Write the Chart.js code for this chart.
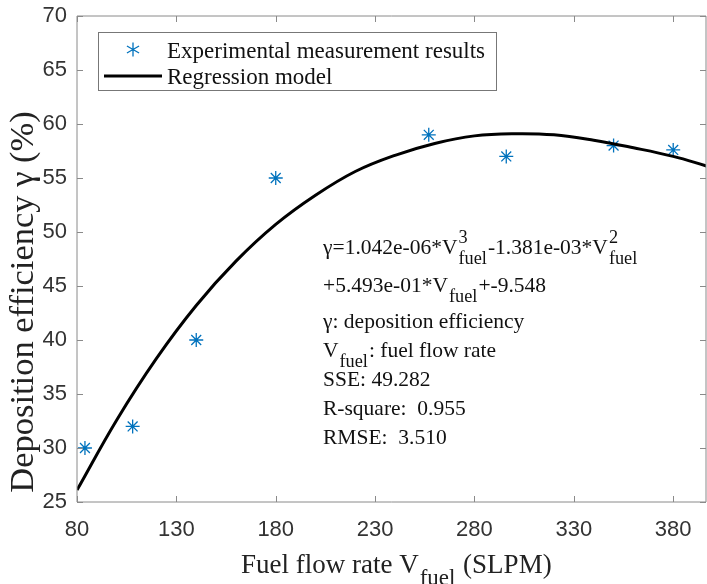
<!DOCTYPE html>
<html>
<head>
<meta charset="utf-8">
<script src="https://cdn.jsdelivr.net/npm/chart.js@4/dist/chart.umd.min.js"></script>
<style>
  html, body { margin: 0; padding: 0; background: #fff; }
  #wrap { width: 707px; height: 584px; }
</style>
</head>
<body>
<div id="wrap"><canvas id="chart" width="707" height="584"></canvas></div>
<script>
"use strict";
(() => {
    // values
    const xTicks = [80, 130, 180, 230, 280, 330, 380];
    const yTicks = [25, 30, 35, 40, 45, 50, 55, 60, 65, 70];
    const measuredFlow = [84, 108, 140, 180, 257, 296, 350, 380];
    const measuredEff = [30, 32, 40, 55, 59, 57, 58, 57.6];
    const modelFlow = [80, 100, 120, 140, 160, 180, 200, 220, 240, 260, 280, 300, 320, 340, 360, 380, 397];
    const modelEff = [26.1, 32.6, 38.3, 43.2, 47.3, 50.7, 53.4, 55.6, 57.1, 58.2, 58.9, 59.1, 59.0, 58.5, 57.8, 57.0, 56.1];

    const axisColor = '#8a8a8a';
    const markerColor = '#0072BD';
    const serif = '"Liberation Serif", "Times New Roman", serif';

    // draws a row of text pieces; a piece may carry sub / sup text
    function drawRich(ctx, x, y, pieces, size) {
        for (const p of pieces) {
            if (p.text) {
                ctx.font = `${size}px ${serif}`;
                ctx.fillText(p.text, x, y);
                x += ctx.measureText(p.text).width;
            }
            let w = 0;
            if (p.sub) {
                ctx.font = `${size * 0.85}px ${serif}`;
                ctx.fillText(p.sub, x + 1, y + size * 0.45);
                w = Math.max(w, ctx.measureText(p.sub).width + 2);
            }
            if (p.sup) {
                ctx.font = `${size * 0.85}px ${serif}`;
                ctx.fillText(p.sup, x + 1, y - size * 0.5);
                w = Math.max(w, ctx.measureText(p.sup).width + 2);
            }
            x += w;
        }
        return x;
    }

    const decorations = {
        id: 'decorations',
        afterDraw(chart) {
            const ctx = chart.ctx;
            const area = chart.chartArea;
            const xs = chart.scales.x;
            const ys = chart.scales.y;
            ctx.save();

            // box and inward ticks
            ctx.strokeStyle = axisColor;
            ctx.lineWidth = 1;
            ctx.beginPath();
            ctx.rect(area.left, area.top, area.right - area.left, area.bottom - area.top);
            for (const v of xTicks) {
                const px = Math.round(xs.getPixelForValue(v)) + 0.5;
                ctx.moveTo(px, area.bottom); ctx.lineTo(px, area.bottom - 6);
                ctx.moveTo(px, area.top); ctx.lineTo(px, area.top + 6);
            }
            for (const v of yTicks) {
                const py = Math.round(ys.getPixelForValue(v)) + 0.5;
                ctx.moveTo(area.left, py); ctx.lineTo(area.left + 6, py);
                ctx.moveTo(area.right, py); ctx.lineTo(area.right - 6, py);
            }
            ctx.stroke();

            // legend
            ctx.strokeStyle = '#777';
            ctx.fillStyle = '#fff';
            ctx.fillRect(98, 32, 399, 59);
            ctx.strokeRect(98.5, 32.5, 398, 58);
            ctx.strokeStyle = markerColor;
            ctx.lineWidth = 1.3;
            ctx.beginPath();
            for (let i = 0; i < 3; i++) {
                const a = Math.PI / 2 + i * Math.PI / 3;
                ctx.moveTo(133 - 7 * Math.cos(a), 49.5 - 7 * Math.sin(a));
                ctx.lineTo(133 + 7 * Math.cos(a), 49.5 + 7 * Math.sin(a));
            }
            ctx.stroke();
            ctx.strokeStyle = '#000';
            ctx.lineWidth = 3;
            ctx.beginPath();
            ctx.moveTo(104, 76); ctx.lineTo(162, 76);
            ctx.stroke();
            ctx.fillStyle = '#111';
            ctx.textBaseline = 'alphabetic';
            ctx.textAlign = 'left';
            ctx.font = `23px ${serif}`;
            ctx.fillText('Experimental measurement results', 167, 57.5);
            ctx.fillText('Regression model', 167, 83.5);

            // fit annotation
            const ax = 323;
            const size = 21.5;
            drawRich(ctx, ax, 254, [
                { text: 'γ=1.042e-06*V', sub: 'fuel', sup: '3' },
                { text: '-1.381e-03*V', sub: 'fuel', sup: '2' }
            ], size);
            drawRich(ctx, ax, 292, [
                { text: '+5.493e-01*V', sub: 'fuel' },
                { text: '+-9.548' }
            ], size);
            drawRich(ctx, ax, 328, [{ text: 'γ: deposition efficiency' }], size);
            drawRich(ctx, ax, 357, [{ text: 'V', sub: 'fuel' }, { text: ': fuel flow rate' }], size);
            drawRich(ctx, ax, 386, [{ text: 'SSE: 49.282' }], size);
            drawRich(ctx, ax, 415, [{ text: 'R-square:  0.955' }], size);
            drawRich(ctx, ax, 444, [{ text: 'RMSE:  3.510' }], size);

            // axis titles
            ctx.fillStyle = '#222';
            drawRich(ctx, 241, 573, [{ text: 'Fuel flow rate V', sub: 'fuel' }, { text: ' (SLPM)' }], 27);
            ctx.translate(33, 302);
            ctx.rotate(-Math.PI / 2);
            ctx.textAlign = 'center';
            ctx.font = `34.5px ${serif}`;
            ctx.fillText('Deposition efficiency γ (%)', 0, 0);
            ctx.restore();
        }
    };

    const tickFont = { family: '"Liberation Sans", Arial, sans-serif', size: 22 };

    new Chart(document.querySelector('#chart'), {
        type: 'scatter',
        data: {
            datasets: [
                {
                    label: 'Regression model',
                    data: modelFlow.map((x, i) => ({ x, y: modelEff[i] })),
                    showLine: true,
                    borderColor: '#000',
                    borderWidth: 3,
                    pointRadius: 0,
                    tension: 0.4,
                    order: 1
                },
                {
                    label: 'Experimental measurement results',
                    data: measuredFlow.map((x, i) => ({ x, y: measuredEff[i] })),
                    pointStyle: 'star',
                    pointRadius: 7,
                    borderColor: markerColor,
                    backgroundColor: markerColor,
                    borderWidth: 1.3,
                    order: 2
                }
            ]
        },
        options: {
            responsive: false,
            animation: false,
            layout: { autoPadding: false, padding: { top: 16, right: 1, left: 0, bottom: 0 } },
            plugins: {
                legend: { display: false },
                tooltip: { enabled: false }
            },
            scales: {
                x: {
                    type: 'linear',
                    min: 80,
                    max: 396.5,
                    afterBuildTicks: (scale) => { scale.ticks = xTicks.map((value) => ({ value })); },
                    afterFit: (scale) => {
                        scale.height = 82;
                        scale.paddingLeft = 0;
                        scale.paddingRight = 0;
                    },
                    grid: { display: false, drawTicks: false },
                    border: { display: false },
                    ticks: { font: tickFont, color: '#333', padding: 15, maxRotation: 0, autoSkip: false }
                },
                y: {
                    type: 'linear',
                    min: 25,
                    max: 70,
                    afterBuildTicks: (scale) => { scale.ticks = yTicks.map((value) => ({ value })); },
                    afterFit: (scale) => {
                        scale.width = 77;
                        scale.paddingTop = 0;
                        scale.paddingBottom = 0;
                    },
                    grid: { display: false, drawTicks: false },
                    border: { display: false },
                    ticks: { font: tickFont, color: '#333', padding: 10, autoSkip: false }
                }
            }
        },
        plugins: [decorations]
    });
})();
</script>
</body>
</html>
